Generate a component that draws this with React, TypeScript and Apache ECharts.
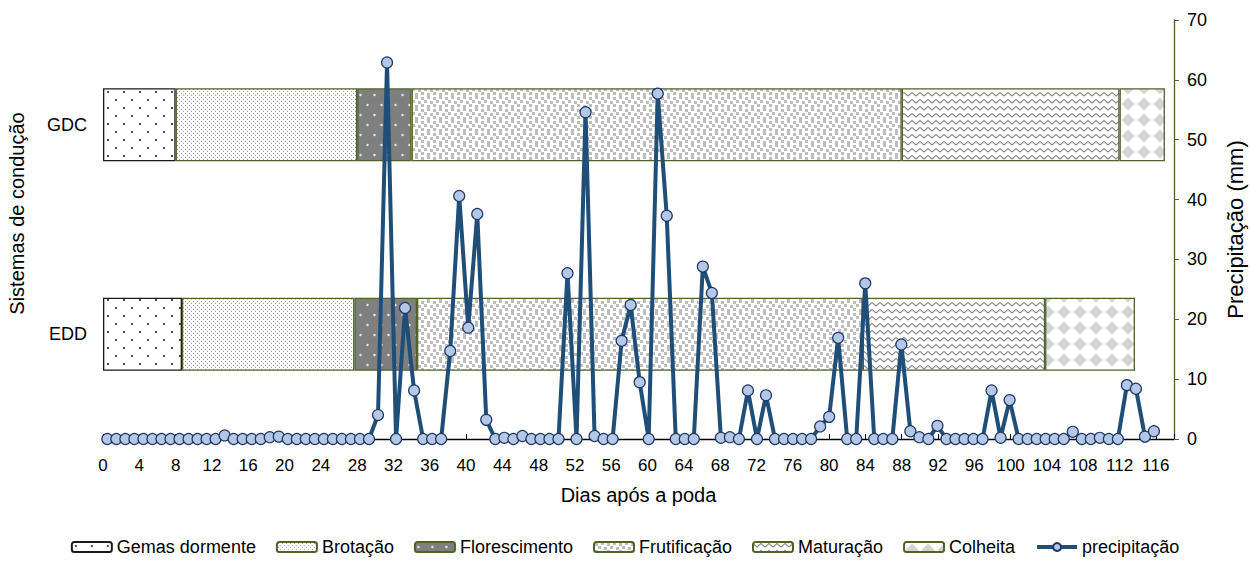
import React, { useEffect, useRef } from "react";
import * as echarts from "echarts";

// Categories (bottom to top on the left axis)
const systems = ["EDD", "GDC"];

// Phase names (legend order)
const phaseNames = ["Gemas dormente", "Brotação", "Florescimento", "Frutificação", "Maturação", "Colheita"];

// Phase durations in days, [EDD, GDC]
const gemasDormente = [8.7, 8];
const brotacao = [19, 20];
const florescimento = [6.9, 6];
const frutificacao = [49.1, 54];
const maturacao = [20.1, 24];
const colheita = [9.9, 5];

// Daily precipitation (mm), days 0..116 after pruning
const precipitacao = [
  0, 0, 0, 0, 0, 0, 0, 0, 0, 0,
  0, 0, 0, 0.6, 0, 0, 0, 0, 0.3, 0.4,
  0, 0, 0, 0, 0, 0, 0, 0, 0, 0,
  4.0, 62.9, 0, 21.9, 8.1, 0, 0, 0, 14.7, 40.6,
  18.6, 37.6, 3.2, 0, 0.2, 0, 0.5, 0, 0, 0,
  0, 27.7, 0, 54.6, 0.5, 0, 0, 16.4, 22.4, 9.5,
  0, 57.7, 37.3, 0, 0, 0, 28.8, 24.4, 0.2, 0.3,
  0, 8.1, 0, 7.3, 0, 0, 0, 0, 0, 2.1,
  3.7, 16.9, 0, 0, 26.0, 0, 0, 0, 15.8, 1.3,
  0.3, 0, 2.2, 0, 0, 0, 0, 0, 8.1, 0.2,
  6.5, 0, 0, 0, 0, 0, 0, 1.2, 0, 0,
  0.2, 0, 0, 9.0, 8.4, 0.4, 1.3,
];

const xTickMax = 118;
const xTickInterval = 4;
const yRightMax = 70;
const yRightInterval = 10;

function makeCanvas(w: number, h: number, draw: (ctx: CanvasRenderingContext2D) => void) {
  const c = document.createElement("canvas");
  c.width = w;
  c.height = h;
  const ctx = c.getContext("2d") as CanvasRenderingContext2D;
  draw(ctx);
  return c;
}

function buildPatterns() {
  const gemas = makeCanvas(16, 16, (ctx) => {
    ctx.fillStyle = "#ffffff";
    ctx.fillRect(0, 0, 16, 16);
    ctx.fillStyle = "#2a2a2a";
    ctx.beginPath();
    ctx.arc(4, 4, 1.1, 0, Math.PI * 2);
    ctx.arc(12, 12, 1.1, 0, Math.PI * 2);
    ctx.fill();
  });
  const brot = makeCanvas(4, 4, (ctx) => {
    ctx.fillStyle = "#ffffff";
    ctx.fillRect(0, 0, 4, 4);
    ctx.fillStyle = "#a0a0a0";
    ctx.fillRect(1, 1, 1, 1);
    ctx.fillRect(3, 3, 1, 1);
  });
  const flor = makeCanvas(14, 20, (ctx) => {
    ctx.fillStyle = "#7f7f7f";
    ctx.fillRect(0, 0, 14, 20);
    ctx.fillStyle = "#e8e8e8";
    ctx.beginPath();
    ctx.arc(3.5, 5, 1.2, 0, Math.PI * 2);
    ctx.arc(10.5, 15, 1.2, 0, Math.PI * 2);
    ctx.fill();
  });
  const frut = makeCanvas(12, 12, (ctx) => {
    ctx.fillStyle = "#ffffff";
    ctx.fillRect(0, 0, 12, 12);
    ctx.fillStyle = "#bdbdbd";
    const sq = [
      [1, 1], [7, 0], [4, 4], [10, 5], [1, 8], [7, 9],
    ];
    sq.forEach(([x, y]) => {
      ctx.fillRect(x, y, 3, 3);
      if (x + 3 > 12) ctx.fillRect(x - 12, y, 3, 3);
    });
  });
  const mat = makeCanvas(8, 7, (ctx) => {
    ctx.fillStyle = "#ffffff";
    ctx.fillRect(0, 0, 8, 7);
    ctx.strokeStyle = "#8a8a8a";
    ctx.lineWidth = 1.1;
    ctx.beginPath();
    ctx.moveTo(-2, 3.5);
    ctx.lineTo(0, 1.5);
    ctx.lineTo(4, 5);
    ctx.lineTo(8, 1.5);
    ctx.lineTo(10, 3.5);
    ctx.stroke();
  });
  const colh = makeCanvas(16, 16, (ctx) => {
    ctx.fillStyle = "#ffffff";
    ctx.fillRect(0, 0, 16, 16);
    ctx.fillStyle = "#d4d4d4";
    ctx.beginPath();
    ctx.moveTo(8, 1.5);
    ctx.lineTo(14.5, 8);
    ctx.lineTo(8, 14.5);
    ctx.lineTo(1.5, 8);
    ctx.closePath();
    ctx.fill();
  });
  return [gemas, brot, flor, frut, mat, colh];
}

export default function App() {
  const ref = useRef<HTMLDivElement>(null);

  useEffect(() => {
    if (!ref.current) return;
    const chart = echarts.init(ref.current, undefined, { renderer: "svg" });
    const pats = buildPatterns();
    const phaseData = [gemasDormente, brotacao, florescimento, frutificacao, maturacao, colheita];
    const green = "#4F6228";
    const font = "Liberation Sans, Arial, sans-serif";

    const barSeries = phaseNames.map((name, i) => ({
      name,
      type: "bar",
      stack: "fases",
      xAxisIndex: 0,
      yAxisIndex: 0,
      barWidth: 73,
      data: phaseData[i],
      itemStyle: {
        color: { image: pats[i], repeat: "repeat" },
        borderColor: i === 0 ? "#1a1a1a" : green,
        borderWidth: 1.3,
      },
      emphasis: { disabled: true },
      z: 2,
    }));

    const lineSeries = {
      name: "precipitação",
      type: "line",
      xAxisIndex: 1,
      yAxisIndex: 1,
      data: precipitacao.map((v, d) => [d, v]),
      symbol: "circle",
      symbolSize: 11,
      showSymbol: true,
      lineStyle: { color: "#1F4E79", width: 4 },
      itemStyle: { color: "#B4C7E7", borderColor: "#1F3864", borderWidth: 1.2 },
      emphasis: { disabled: true },
      z: 5,
    };

    chart.setOption({
      animation: false,
      backgroundColor: "#ffffff",
      textStyle: { fontFamily: font },
      grid: {
        left: 103,
        right: 76,
        top: 20,
        bottom: 122,
        containLabel: false,
        outerBoundsMode: "none",
      },
      legend: {
        top: 538,
        left: "center",
        padding: [0, 5],
        itemWidth: 40,
        itemHeight: 10,
        itemGap: 20,
        textStyle: { fontSize: 18, color: "#000", fontFamily: font },
        data: [
          ...phaseNames,
          { name: "precipitação", lineStyle: { width: 4, color: "#1F4E79" } },
        ],
      },
      xAxis: [
        {
          type: "value",
          min: 0,
          max: xTickMax,
          interval: xTickInterval,
          position: "bottom",
          name: "Dias após a poda",
          nameLocation: "middle",
          nameGap: 46,
          nameTextStyle: { fontSize: 20, color: "#000", fontFamily: font },
          axisLine: { show: true, onZero: false, lineStyle: { color: "#000", width: 1.3 } },
          axisTick: { show: true, inside: true, length: 5, lineStyle: { color: "#000" } },
          axisLabel: {
            fontSize: 17,
            color: "#000",
            margin: 18,
            formatter: (v: number) => (v % xTickInterval === 0 && v <= 116 ? String(v) : ""),
          },
          splitLine: { show: false },
        },
        {
          type: "value",
          min: -0.48,
          max: 118.22,
          show: false,
          splitLine: { show: false },
        },
      ],
      yAxis: [
        {
          type: "category",
          data: systems,
          position: "left",
          name: "Sistemas de condução",
          nameLocation: "middle",
          nameGap: 76,
          nameRotate: 90,
          nameTextStyle: { fontSize: 20, color: "#000", fontFamily: font, padding: [0, 0, 0, 32] },
          axisLine: { show: false },
          axisTick: { show: false },
          axisLabel: { fontSize: 18, color: "#000", margin: 16 },
          splitLine: { show: false },
        },
        {
          type: "value",
          min: 0,
          max: yRightMax,
          interval: yRightInterval,
          position: "right",
          name: "Precipitação (mm)",
          nameLocation: "middle",
          nameGap: 50,
          nameRotate: 90,
          nameTextStyle: { fontSize: 22, color: "#000", fontFamily: font },
          axisLine: { show: true, onZero: false, lineStyle: { color: green, width: 1.3 } },
          axisTick: { show: true, length: 5, lineStyle: { color: green } },
          axisLabel: { fontSize: 18, color: "#000", margin: 13 },
          splitLine: { show: false },
        },
      ],
      series: [...barSeries, lineSeries],
    });

    return () => {
      chart.dispose();
    };
  }, []);

  return (
    <div
      ref={ref}
      style={{ position: "absolute", left: 0, top: 0, width: 1250, height: 561, background: "#fff" }}
    />
  );
}
